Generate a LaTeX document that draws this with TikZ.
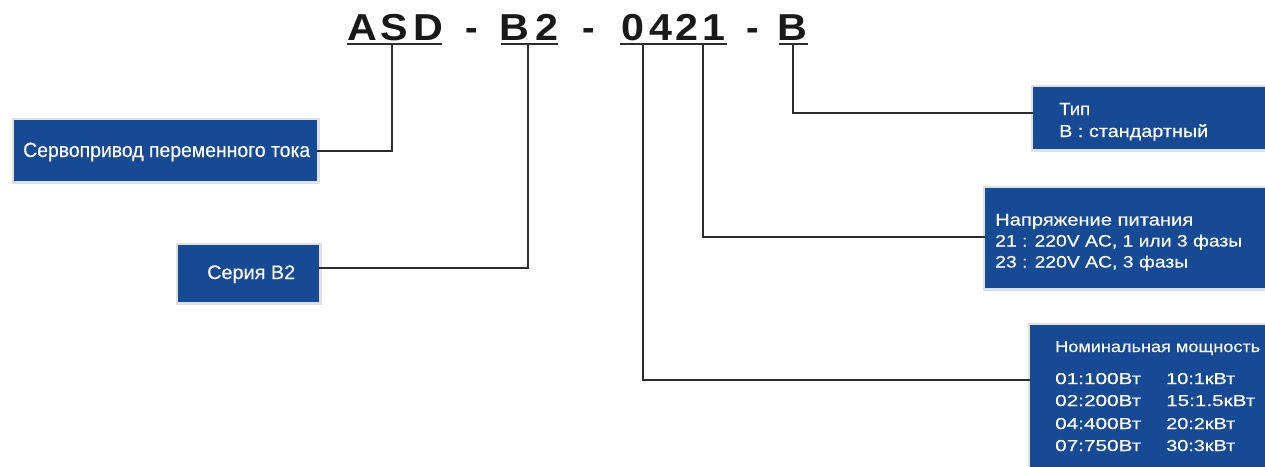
\documentclass[tikz,border=0pt]{standalone}
\usepackage{fontspec}
\usepackage{graphicx}
\setmainfont{Liberation Sans}
\newfontfamily\boxfont[FakeBold=0.4]{Liberation Sans}
\definecolor{boxblue}{RGB}{22,74,148}
\definecolor{wire}{RGB}{45,45,45}
\newcommand\fitw[2]{\resizebox{#1pt}{\height}{#2}}
\begin{document}
\begin{tikzpicture}[x=1pt,y=-1pt,
  box/.style={fill=boxblue, draw=none, inner sep=0, anchor=north west,
    preaction={draw=black!12, line width=5pt}},
  lbl/.style={text=white, inner sep=0, anchor=base west},
  ttl/.style={inner sep=0, anchor=base, font=\bfseries\fontsize{37.5}{40}\selectfont, text=black!90},
  uline/.style={draw=wire, line width=2pt},
  wirel/.style={draw=wire, line width=1.6pt}]
\useasboundingbox (0,0) rectangle (1265,466);
\fill[white] (0,0) rectangle (1265,466);

% title characters
\node[ttl] (tA) at (362,40) {\scalebox{1.1}[1]{A}};
\node[ttl] (tS) at (394,40) {\scalebox{1.1}[1]{S}};
\node[ttl] (tD) at (428,40) {\scalebox{1.1}[1]{D}};
\node[ttl] (h1) at (472,40) {-};
\node[ttl] (tB) at (514,40) {\scalebox{1.1}[1]{B}};
\node[ttl] (t2) at (547,40) {\scalebox{1.1}[1]{2}};
\node[ttl] (h2) at (589,40) {-};
\node[ttl] (n0) at (633,40) {\scalebox{1.1}[1]{0}};
\node[ttl] (n4) at (661,40) {\scalebox{1.1}[1]{4}};
\node[ttl] (n2) at (687,40) {\scalebox{1.1}[1]{2}};
\node[ttl] (n1) at (714,40) {\scalebox{1.1}[1]{1}};
\node[ttl] (h3) at (753,40) {-};
\node[ttl] (tB2) at (792,40) {\scalebox{1.1}[1]{B}};

% underlines
\coordinate (ua1) at (347,44); \coordinate (ua2) at (442,44);
\coordinate (ub1) at (501,44); \coordinate (ub2) at (558,44);
\coordinate (uc1) at (620,44); \coordinate (uc2) at (727,44);
\coordinate (ud1) at (779,44); \coordinate (ud2) at (808,44);
\draw[uline] (ua1) -- (ua2);
\draw[uline] (ub1) -- (ub2);
\draw[uline] (uc1) -- (uc2);
\draw[uline] (ud1) -- (ud2);

% tap points
\coordinate (p1) at (392,44);
\coordinate (p2) at (528,44);
\coordinate (p3) at (643,44);
\coordinate (p4) at (703,44);
\coordinate (p5) at (793,44);

% boxes
\node[box, minimum width=303, minimum height=61] (b1) at (14,120) {};
\node[box, minimum width=141, minimum height=57] (b2) at (178,245) {};
\node[box, minimum width=240, minimum height=62] (b3) at (1033,87) {};
\node[box, minimum width=290, minimum height=100] (b4) at (985,188) {};
\node[box, minimum width=245, minimum height=150] (b5) at (1030,325) {};

% connectors
\coordinate (k2) at (319,268);
\coordinate (k3) at (1033,113);
\coordinate (k4) at (985,237);
\coordinate (k5) at (1030,380);
\draw[wirel] (b1.east) -| (p1);
\draw[wirel] (k2) -| (p2);
\draw[wirel] (p5) |- (k3);
\draw[wirel] (p4) |- (k4);
\draw[wirel] (p3) |- (k5);

% box texts
\node[lbl, font=\boxfont\fontsize{20.5}{24}\selectfont] (x1) at (23,157) {\fitw{287}{Сервопривод переменного тока}};
\node[lbl, font=\boxfont\fontsize{19.5}{22}\selectfont] (x2) at (207,279) {\fitw{88}{Серия B2}};

\node[lbl, font=\boxfont\fontsize{17.5}{20}\selectfont] (x3a) at (1059,115) {\fitw{31}{Тип}};
\node[lbl, font=\boxfont\fontsize{17.3}{20}\selectfont] (x3b) at (1059,137) {\fitw{149}{B : стандартный}};

\node[lbl, font=\boxfont\fontsize{17}{20}\selectfont] (x4a) at (995,225.5) {\fitw{198}{Напряжение питания}};
\node[lbl, font=\boxfont\fontsize{16.5}{20}\selectfont] (x4b) at (995,246.5) {\fitw{247}{21 : 220V AC, 1 или 3 фазы}};
\node[lbl, font=\boxfont\fontsize{16.5}{20}\selectfont] (x4c) at (995,267.5) {\fitw{193}{23 : 220V AC, 3 фазы}};

\node[lbl, font=\boxfont\fontsize{15.8}{18}\selectfont] (x5h) at (1055,352) {\fitw{205}{Номинальная мощность}};
\node[lbl, font=\boxfont\fontsize{15.8}{18}\selectfont] (x5a) at (1055,384) {\fitw{86}{01:100Вт}};
\node[lbl, font=\boxfont\fontsize{15.8}{18}\selectfont] (x5b) at (1055,406) {\fitw{86}{02:200Вт}};
\node[lbl, font=\boxfont\fontsize{15.8}{18}\selectfont] (x5c) at (1055,429) {\fitw{86}{04:400Вт}};
\node[lbl, font=\boxfont\fontsize{15.8}{18}\selectfont] (x5d) at (1055,451) {\fitw{86}{07:750Вт}};
\node[lbl, font=\boxfont\fontsize{15.8}{18}\selectfont] (x5e) at (1166,384) {\fitw{69}{10:1кВт}};
\node[lbl, font=\boxfont\fontsize{15.8}{18}\selectfont] (x5f) at (1166,406) {\fitw{89}{15:1.5кВт}};
\node[lbl, font=\boxfont\fontsize{15.8}{18}\selectfont] (x5g) at (1166,429) {\fitw{69}{20:2кВт}};
\node[lbl, font=\boxfont\fontsize{15.8}{18}\selectfont] (x5k) at (1166,451) {\fitw{69}{30:3кВт}};
\end{tikzpicture}
\end{document}
